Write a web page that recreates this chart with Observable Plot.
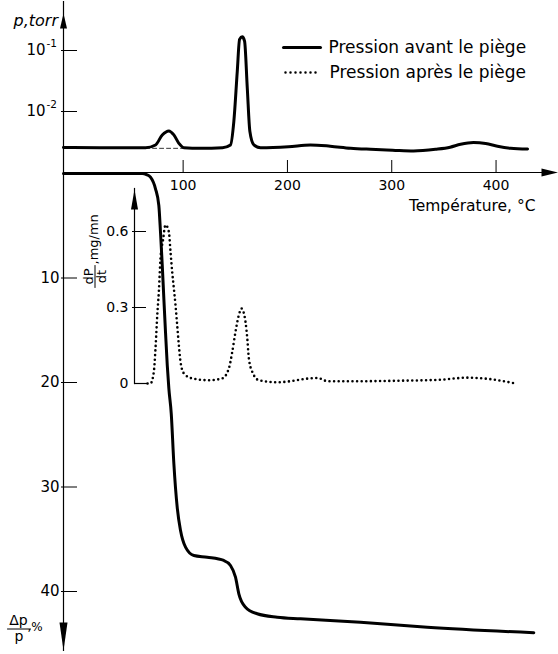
<!DOCTYPE html>
<html><head><meta charset="utf-8">
<script src="https://cdn.jsdelivr.net/npm/d3@7"></script>
<script src="https://cdn.jsdelivr.net/npm/@observablehq/plot@0.6"></script>
<style>
html,body{margin:0;padding:0;background:#fff;}
#chart{position:relative;width:558px;height:654px;overflow:hidden;background:#fff;}
</style></head><body><div id="chart"></div>
<script>
// ---- Data ----
// Top panel: pressure before the trap (torr, log scale) vs temperature (°C)
const pressT = [-14.7, 20, 64, 73.5, 80, 86.3, 91.1, 95.9, 100.7, 116.7, 137.8, 145.4, 148.6, 151.9, 154.1, 156.7, 158.9, 161.5, 164, 167.8, 174.2, 201, 222, 241, 260.5, 279.7, 300.8, 321, 342, 356, 366, 378.4, 390, 401.4, 413.9, 430.2];
const pressP = [0.00258, 0.00255, 0.00255, 0.00283, 0.00413, 0.00481, 0.00413, 0.00301, 0.00255, 0.0025, 0.00255, 0.00283, 0.00684, 0.0456, 0.152, 0.1675, 0.142, 0.0242, 0.00469, 0.00283, 0.00255, 0.00265, 0.00283, 0.0027, 0.0025, 0.0024, 0.00232, 0.00225, 0.0024, 0.0026, 0.0029, 0.0031, 0.003, 0.0027, 0.0025, 0.00242];
// dashed baseline under the first small peak
const baseT = [64, 100.7];
const baseP = [0.00249, 0.00249];
// Inset: dP/dt (mg/mn), "Pression après le piège" dotted curve
const derivT = [65.9, 68.7, 71.9, 73.5, 75.2, 76.7, 78.3, 80.7, 83.1, 86.3, 87.9, 89.5, 91.1, 92.7, 94.3, 95.9, 97.5, 100.7, 108.7, 124.6, 137.5, 143.8, 147.1, 150.2, 153.4, 156, 157.9, 159.8, 161.5, 163, 166.3, 172.6, 190.5, 229, 238.5, 270, 308, 347, 372.6, 394.7, 418.7];
const derivV = [0, 0, 0.046, 0.138, 0.27, 0.362, 0.494, 0.566, 0.626, 0.599, 0.52, 0.441, 0.375, 0.309, 0.23, 0.151, 0.085, 0.04, 0.02, 0.013, 0.02, 0.059, 0.125, 0.204, 0.27, 0.296, 0.282, 0.243, 0.178, 0.099, 0.046, 0.013, 0.005, 0.022, 0.009, 0.009, 0.011, 0.015, 0.023, 0.017, 0.0];
// Main: weight loss Δp/p (%) vs temperature
const tgT = [-14.7, 40, 60.8, 64.9, 68.7, 73.5, 76.7, 78.3, 80, 81.5, 83.1, 84.8, 86.3, 88.6, 91.1, 94.3, 97.5, 102.3, 110.3, 123.1, 139, 145.4, 150.2, 153.4, 159.8, 171, 190.2, 212.6, 270, 334, 436.2];
const tgPct = [0, 0, 0, 0.1, 0.35, 1.46, 3.06, 5.62, 8.8, 11.96, 15.18, 18.37, 20.57, 22.97, 27.75, 31.93, 34.16, 35.76, 36.56, 36.72, 37.03, 37.51, 38.63, 40.22, 41.5, 42.13, 42.46, 42.61, 42.94, 43.42, 43.95];
// Ticks
const tempTicks = [100, 200, 300, 400];
const pTicks = [0.1, 0.01];
const pTickBase = ["10", "10"];
const pTickExp = ["-1", "-2"];
const lossTicks = [10, 20, 30, 40];
const derivTicks = [0, 0.3, 0.6];
const legendLabels = ["Pression avant le piège", "Pression après le piège"];

// ---- Tables ----
const press = pressT.map((T, i) => ({T, p: pressP[i]}));
const base = baseT.map((T, i) => ({T, p: baseP[i]}));
const deriv = derivT.map((T, i) => ({T, v: derivV[i]}));
const tg = tgT.map((T, i) => ({T, pct: tgPct[i]}));

const W = 558, H = 654;
const xScale = {domain: [-14.7, 457], range: [63, 555]};
const FONT = "'DejaVu Sans', 'Liberation Sans', sans-serif";
const style = {position: "absolute", left: "0px", top: "0px", background: "transparent", overflow: "visible", fontFamily: FONT, fontSize: "14px", color: "#000"};
const tri = w => ({draw(ctx, l) { ctx.moveTo(0, -l); ctx.lineTo(-w / 2, 0); ctx.lineTo(w / 2, 0); ctx.closePath(); }});
const seg = {draw(ctx, l) { ctx.moveTo(0, 0); ctx.lineTo(0, -l); }};
const at = (m, px, py) => ({frameAnchor: "top-left", dx: px - m.l, dy: py - m.t});
const lbl = (m, px, py, s, o = {}) => Plot.text([s], {...at(m, px, py), text: d => d, textAnchor: "middle", lineAnchor: "middle", fill: "#000", ...o});
// inward (rightward) ticks on a left axis: a horizontal rule inset to a short length
const inTickY = (m, ticks, len) => Plot.ruleY(ticks, {insetLeft: -2, insetRight: (W - m.l - m.r) - len + 2, stroke: "#000", strokeWidth: 1});

// ---- Plot A: weight loss (main, downward axis) ----
const mA = {l: 63, t: 1, r: 3, b: 4};
const plotA = Plot.plot({
  width: W, height: H, marginLeft: mA.l, marginTop: mA.t, marginRight: mA.r, marginBottom: mA.b,
  style,
  x: {...xScale, axis: null},
  y: {domain: [0, 40], range: [173, 591]},
  marks: [
    Plot.frame({anchor: "left", stroke: "#000", strokeWidth: 1.2}),
    inTickY(mA, lossTicks, 16),
    Plot.axisY({ticks: lossTicks, tickSize: 0, tickPadding: 4, label: null, fontSize: 15, fill: "#000"}),
    Plot.line(tg, {x: "T", y: "pct", stroke: "#000", strokeWidth: 3, curve: "monotone-x"}),
    Plot.vector([0], {frameAnchor: "bottom-left", rotate: 180, anchor: "end", length: 28, shape: tri(8), fill: "#000", stroke: "none"}),
    Plot.vector([0], {frameAnchor: "top-left", dy: 12, anchor: "end", length: 15, shape: tri(7), fill: "#000", stroke: "none"}),
    lbl(mA, 18, 620, "Δp", {fontSize: 14}),
    Plot.vector([0], {...at(mA, 7, 628.5), rotate: 90, anchor: "start", length: 23, shape: seg, stroke: "#000", strokeWidth: 1}),
    lbl(mA, 18.5, 636, "p", {fontSize: 14}),
    lbl(mA, 27, 627, ",%", {textAnchor: "start", fontSize: 12})
  ]
});

// ---- Plot B: pressure (top, log axis) + temperature axis + legend ----
const mB = {l: 63, t: 1, r: 3, b: H - 172};
const plotB = Plot.plot({
  width: W, height: H, marginLeft: mB.l, marginTop: mB.t, marginRight: mB.r, marginBottom: mB.b,
  style,
  x: {...xScale},
  y: {type: "log", domain: [1e-3, 1e-1], range: [172, 50], axis: null},
  marks: [
    Plot.ruleY([1e-3], {stroke: "#000", strokeWidth: 1.2}),
    // upward ticks on the temperature axis
    Plot.ruleX(tempTicks, {insetTop: (H - mB.t - mB.b) - 12, stroke: "#000", strokeWidth: 1}),
    Plot.axisX({ticks: tempTicks, tickSize: 0, tickPadding: 8, label: null, fontSize: 14, fill: "#000"}),
    inTickY(mB, pTicks, 16),
    // "10" with a raised exponent, at the log-scale tick positions
    Plot.text(pTicks, {y: d => d, text: (d, i) => pTickBase[i], frameAnchor: "left", dx: -18, textAnchor: "end", lineAnchor: "middle", fontSize: 15, fill: "#000"}),
    Plot.text(pTicks, {y: d => d, text: (d, i) => pTickExp[i], frameAnchor: "left", dx: -17, dy: -7, textAnchor: "start", lineAnchor: "middle", fontSize: 10.5, fill: "#000"}),
    Plot.line(base, {x: "T", y: "p", stroke: "#000", strokeWidth: 0.8, strokeDasharray: "4 3"}),
    Plot.line(press, {x: "T", y: "p", stroke: "#000", strokeWidth: 3, curve: "monotone-x"}),
    Plot.vector([0], {frameAnchor: "bottom-right", dx: 3, rotate: 90, anchor: "end", length: 17, shape: tri(8), fill: "#000", stroke: "none"}),
    lbl(mB, 535, 206, "Température, °C", {textAnchor: "end", fontSize: 15.5}),
    lbl(mB, 13, 20, "p,torr", {textAnchor: "start", fontSize: 16, fontStyle: "italic"}),
    // legend
    Plot.vector([0], {...at(mB, 283, 47), rotate: 90, anchor: "start", length: 37, shape: seg, stroke: "#000", strokeWidth: 3}),
    Plot.vector([0], {...at(mB, 285, 72), rotate: 90, anchor: "start", length: 34, shape: seg, stroke: "#000", strokeWidth: 2.5, strokeDasharray: "0 5", strokeLinecap: "round"}),
    lbl(mB, 328, 47, legendLabels[0], {textAnchor: "start", fontSize: 17}),
    lbl(mB, 329, 72, legendLabels[1], {textAnchor: "start", fontSize: 17})
  ]
});

// ---- Plot C: inset dP/dt ----
const mC = {l: 134, t: 188, r: 3, b: H - 383};
const plotC = Plot.plot({
  width: W, height: H, marginLeft: mC.l, marginTop: mC.t, marginRight: mC.r, marginBottom: mC.b,
  style,
  x: {...xScale, axis: null},
  y: {domain: [0, 0.6], range: [383, 231]},
  marks: [
    Plot.frame({anchor: "left", stroke: "#000", strokeWidth: 1.2}),
    inTickY(mC, derivTicks.filter(d => d > 0), 14),
    Plot.axisY({ticks: derivTicks, tickFormat: d => d === 0 ? "0" : d.toFixed(1), tickSize: 0, tickPadding: 6, label: null, fontSize: 14, fill: "#000"}),
    Plot.line(deriv, {x: "T", y: "v", stroke: "#000", strokeWidth: 2.6, strokeDasharray: "0 4.6", strokeLinecap: "round", curve: "monotone-x"}),
    // short solid baseline at the foot of the inset axis
    Plot.ruleY([0], {insetRight: (W - mC.l - mC.r) - 14, stroke: "#000", strokeWidth: 1.2}),
    Plot.vector([0], {frameAnchor: "top-left", anchor: "end", dy: 1, length: 20, shape: tri(7), fill: "#000", stroke: "none"}),
    lbl(mC, 88, 276, "dP", {rotate: -90, fontSize: 13}),
    Plot.vector([0], {...at(mC, 94.5, 287), rotate: 0, anchor: "start", length: 22, shape: seg, stroke: "#000", strokeWidth: 1}),
    lbl(mC, 101, 276, "dt", {rotate: -90, fontSize: 13}),
    lbl(mC, 93, 264, ",mg/mn", {rotate: -90, textAnchor: "start", fontSize: 13})
  ]
});

const chart = document.getElementById("chart");
chart.append(plotA, plotB, plotC);
</script>
</body></html>
